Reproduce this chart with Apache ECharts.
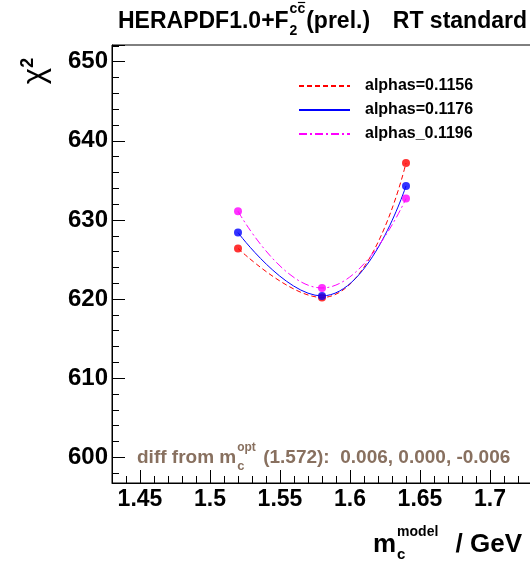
<!DOCTYPE html>
<html><head><meta charset="utf-8">
<script src="https://cdn.jsdelivr.net/npm/echarts@6/dist/echarts.min.js"></script>
<style>html,body{margin:0;padding:0;background:#fff}#c{width:530px;height:561px}</style>
</head><body><div id="c"></div>
<script>
// ---- data ----
const mcValues = [1.52, 1.58, 1.64];
const seriesNames = ['alphas=0.1156', 'alphas=0.1176', 'alphas_0.1196'];
const chi2_a1156 = [626.4, 620.2, 637.2];
const chi2_a1176 = [628.4, 620.4, 634.3];
const chi2_a1196 = [631.1, 621.4, 632.7];
const diffValues = ['0.006', '0.000', '-0.006'];
const mcOptText = '1.572';
const titleMain = 'HERAPDF1.0+F';
const titleRest = '(prel.)';
const titleRight = 'RT standard';

// ---- style ----
const FONT = "'Liberation Sans', Arial, sans-serif";
const colors = ['#ff0000', '#0000ff', '#ff00ff'];
const dashes = [[5, 3], 'solid', [8, 3, 2, 3]];
const noteColor = '#88705f';

const mctx = document.createElement('canvas').getContext('2d');
function tw(text, size) { mctx.font = 'bold ' + size + 'px ' + FONT; return mctx.measureText(text).width; }
function txt(text, x, y, size, o) {
  o = o || {};
  return {
    type: 'text', x: x, y: y, silent: true, rotation: o.rotation || 0,
    style: {
      text: text, font: 'bold ' + size + 'px ' + FONT, fill: o.color || '#000',
      textAlign: o.align || 'left', align: o.align || 'left',
      textVerticalAlign: 'middle', verticalAlign: 'middle', rich: o.rich
    }
  };
}

const graphics = [];
// title
let tx = 118;
graphics.push(txt(titleMain, tx, 22, 23));
tx += tw(titleMain, 23) + 1;
graphics.push(txt('cc', tx, 9, 14));
graphics.push({type: 'line', silent: true, shape: {x1: tx + tw('c', 14) + 0.5, y1: 2.5, x2: tx + tw('cc', 14), y2: 2.5}, style: {stroke: '#000', lineWidth: 1.2}});
graphics.push(txt('2', tx, 31, 14));
tx += Math.max(tw('cc', 14), tw('2', 14)) + 1;
graphics.push(txt(titleRest, tx, 22, 23));
graphics.push(txt(titleRight, 527, 22, 23, {align: 'right'}));

// y title chi^2 (rotated)
graphics.push(txt('{a|χ}{b|2}', 35, 71, 30, {rotation: Math.PI / 2, align: 'center', rich: {
  a: {fontFamily: FONT, fontSize: 31, lineHeight: 32, color: '#000'},
  b: {fontFamily: FONT, fontWeight: 'bold', fontSize: 18, lineHeight: 19, verticalAlign: 'top', color: '#000'}
}}));

// x title m_c^model / GeV
let xx = 373;
graphics.push(txt('m', xx, 545, 26));
xx += tw('m', 26) + 1;
graphics.push(txt('model', xx, 532, 14));
graphics.push(txt('c', xx, 555, 15));
graphics.push(txt('/ GeV', 522, 545, 26, {align: 'right'}));

// annotation
let ax = 137;
const aSize = 19;
graphics.push(txt('diff from m', ax, 458, aSize, {color: noteColor}));
ax += tw('diff from m', aSize) + 1;
graphics.push(txt('opt', ax, 448, 12, {color: noteColor}));
graphics.push(txt('c', ax, 466, 13, {color: noteColor}));
ax += tw('opt', 12) + 2;
graphics.push(txt(' (' + mcOptText + '):  ' + diffValues.join(', '), ax, 458, aSize, {color: noteColor}));

const chiSeries = [chi2_a1156, chi2_a1176, chi2_a1196];
const series = [];
chiSeries.forEach(function (vals, i) {
  series.push({
    type: 'line', name: seriesNames[i], data: mcValues.map(function (m, j) { return [m, vals[j]]; }),
    smooth: 0.5, symbol: 'none', silent: true, z: 2,
    lineStyle: {color: colors[i], width: 1, type: dashes[i]}, itemStyle: {color: colors[i]}
  });
});
chiSeries.forEach(function (vals, i) {
  series.push({
    type: 'scatter', name: seriesNames[i] + ' points', data: mcValues.map(function (m, j) { return [m, vals[j]]; }),
    symbol: 'circle', symbolSize: 8, silent: true, z: 3, itemStyle: {color: colors[i]}
  });
});

const axisCommon = {
  type: 'value', splitLine: {show: false},
  axisLine: {show: true, onZero: false, lineStyle: {color: '#000', width: 1}},
  axisTick: {show: true, inside: true, length: 13, lineStyle: {color: '#000', width: 1}},
  minorTick: {show: true, splitNumber: 5, length: 7, lineStyle: {color: '#000', width: 1}}
};

const chart = echarts.init(document.getElementById('c'), null, {renderer: 'canvas'});
chart.setOption({
  animation: false,
  backgroundColor: '#fff',
  grid: {left: 112, top: 45, width: 420, height: 438, show: true, borderColor: '#000', borderWidth: 1, containLabel: false, outerBoundsMode: 'none'},
  xAxis: Object.assign({}, axisCommon, {
    min: 1.43, max: 1.73, splitNumber: 6,
    axisLabel: {showMinLabel: false, showMaxLabel: false, margin: 5, fontFamily: FONT, fontWeight: 'bold', fontSize: 23, color: '#000'}
  }),
  yAxis: Object.assign({}, axisCommon, {
    min: 596.75, max: 652.11, splitNumber: 5,
    axisLabel: {showMinLabel: false, showMaxLabel: false, margin: 4, fontFamily: FONT, fontWeight: 'bold', fontSize: 24, color: '#000'}
  }),
  legend: {
    orient: 'vertical', left: 293, top: 73, itemWidth: 51, itemHeight: 14, itemGap: 8,
    selectedMode: false, data: seriesNames,
    itemStyle: {opacity: 0, borderWidth: 0},
    textStyle: {fontFamily: FONT, fontWeight: 'bold', fontSize: 16, color: '#000', padding: [0, 0, 0, 10]}
  },
  series: series,
  graphic: graphics
});
</script>
</body></html>
